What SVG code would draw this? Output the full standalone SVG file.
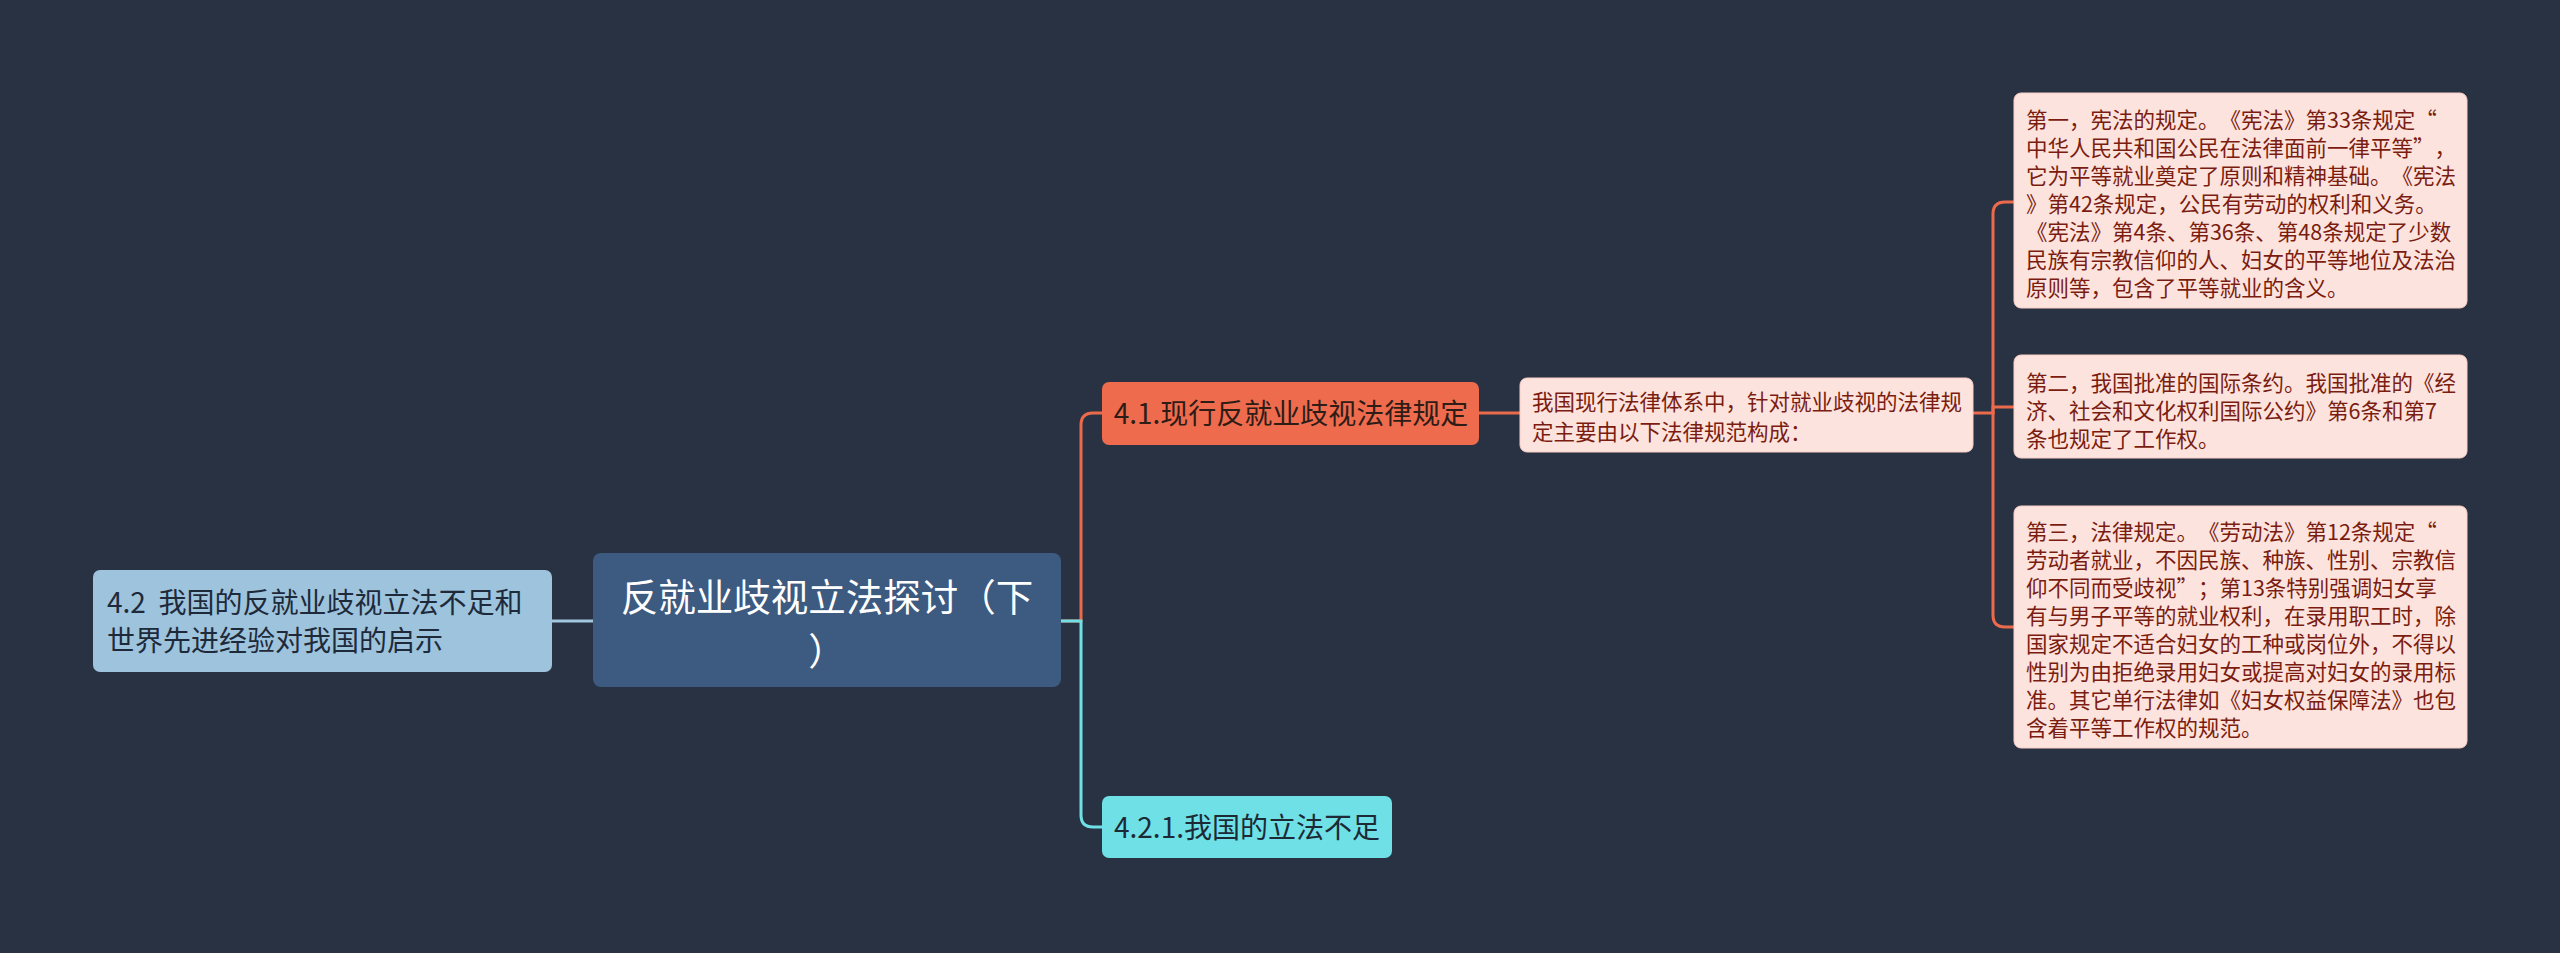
<svg xmlns="http://www.w3.org/2000/svg" width="2560" height="953" viewBox="0 0 2560 953">
<style>
text{font-family:"Noto Sans CJK SC","Noto Sans",sans-serif;text-spacing-trim:space-all;font-kerning:none;}
.conn{fill:none;stroke-width:3;stroke-linecap:round;}
.or{stroke:#ec6a4c;}
.cy{stroke:#6ee0e6;}
.bl{stroke:#a3c6df;}
.box{fill:#fde3de;stroke:#f6cfc6;stroke-width:1;}
.bt{font-size:21.5px;fill:#7a1d10;}
</style>
<rect width="2560" height="953" fill="#293242"/>
<g id="connectors">
<path class="conn bl" d="M552,621 H593"/>
<path class="conn or" d="M1061,621 H1081 V425 Q1081,413 1093,413 H1102"/>
<path class="conn cy" d="M1061,621 H1081 V815 Q1081,827 1093,827 H1102"/>
<path class="conn or" d="M1479,413 H1520"/>
<path class="conn or" d="M1973,413 H1993 V214 Q1993,202 2005,202 H2014"/>
<path class="conn or" d="M1993,413 V407 H2014"/>
<path class="conn or" d="M1993,413 V615 Q1993,627 2005,627 H2014"/>
</g>
<g id="central">
<rect x="593" y="553" width="468" height="134" rx="8" fill="#3d5a80"/>
<text x="827" y="611" font-size="37.5" fill="#ffffff" text-anchor="middle">反就业歧视立法探讨（下</text>
<text x="827" y="665" font-size="37.5" fill="#ffffff" text-anchor="middle">）</text>
</g>
<g id="left">
<rect x="93" y="570" width="459" height="102" rx="7" fill="#9dc3dd"/>
<text x="107" y="613" font-size="28" fill="#1e2a3a" xml:space="preserve">4.2  我国的反就业歧视立法不足和</text>
<text x="107" y="651" font-size="28" fill="#1e2a3a">世界先进经验对我国的启示</text>
</g>
<g id="n41">
<rect x="1102" y="382" width="377" height="63" rx="7" fill="#ee6b4d"/>
<text x="1291" y="424" font-size="28" fill="#2e1c17" text-anchor="middle">4.1.现行反就业歧视法律规定</text>
</g>
<g id="n421">
<rect x="1102" y="796" width="290" height="62" rx="7" fill="#6ee0e6"/>
<text x="1247" y="838" font-size="28" fill="#1d2a35" text-anchor="middle">4.2.1.我国的立法不足</text>
</g>
<g id="mid">
<rect class="box" x="1520" y="378" width="453" height="74" rx="7"/>
<text class="bt" x="1532" y="410">我国现行法律体系中，针对就业歧视的法律规</text>
<text class="bt" x="1532" y="440">定主要由以下法律规范构成：</text>
</g>
<g id="r1">
<rect class="box" x="2014" y="93" width="453" height="215" rx="7"/>
<text class="bt" x="2026" y="128">第一，宪法的规定。《宪法》第33条规定“</text>
<text class="bt" x="2026" y="156">中华人民共和国公民在法律面前一律平等”，</text>
<text class="bt" x="2026" y="184">它为平等就业奠定了原则和精神基础。《宪法</text>
<text class="bt" x="2026" y="212">》第42条规定，公民有劳动的权利和义务。</text>
<text class="bt" x="2026" y="240">《宪法》第4条、第36条、第48条规定了少数</text>
<text class="bt" x="2026" y="268">民族有宗教信仰的人、妇女的平等地位及法治</text>
<text class="bt" x="2026" y="296">原则等，包含了平等就业的含义。</text>
</g>
<g id="r2">
<rect class="box" x="2014" y="355" width="453" height="103" rx="7"/>
<text class="bt" x="2026" y="391">第二，我国批准的国际条约。我国批准的《经</text>
<text class="bt" x="2026" y="419">济、社会和文化权利国际公约》第6条和第7</text>
<text class="bt" x="2026" y="447">条也规定了工作权。</text>
</g>
<g id="r3">
<rect class="box" x="2014" y="506" width="453" height="242" rx="7"/>
<text class="bt" x="2026" y="540">第三，法律规定。《劳动法》第12条规定“</text>
<text class="bt" x="2026" y="568">劳动者就业，不因民族、种族、性别、宗教信</text>
<text class="bt" x="2026" y="596">仰不同而受歧视”；第13条特别强调妇女享</text>
<text class="bt" x="2026" y="624">有与男子平等的就业权利，在录用职工时，除</text>
<text class="bt" x="2026" y="652">国家规定不适合妇女的工种或岗位外，不得以</text>
<text class="bt" x="2026" y="680">性别为由拒绝录用妇女或提高对妇女的录用标</text>
<text class="bt" x="2026" y="708">准。其它单行法律如《妇女权益保障法》也包</text>
<text class="bt" x="2026" y="736">含着平等工作权的规范。</text>
</g>
</svg>
